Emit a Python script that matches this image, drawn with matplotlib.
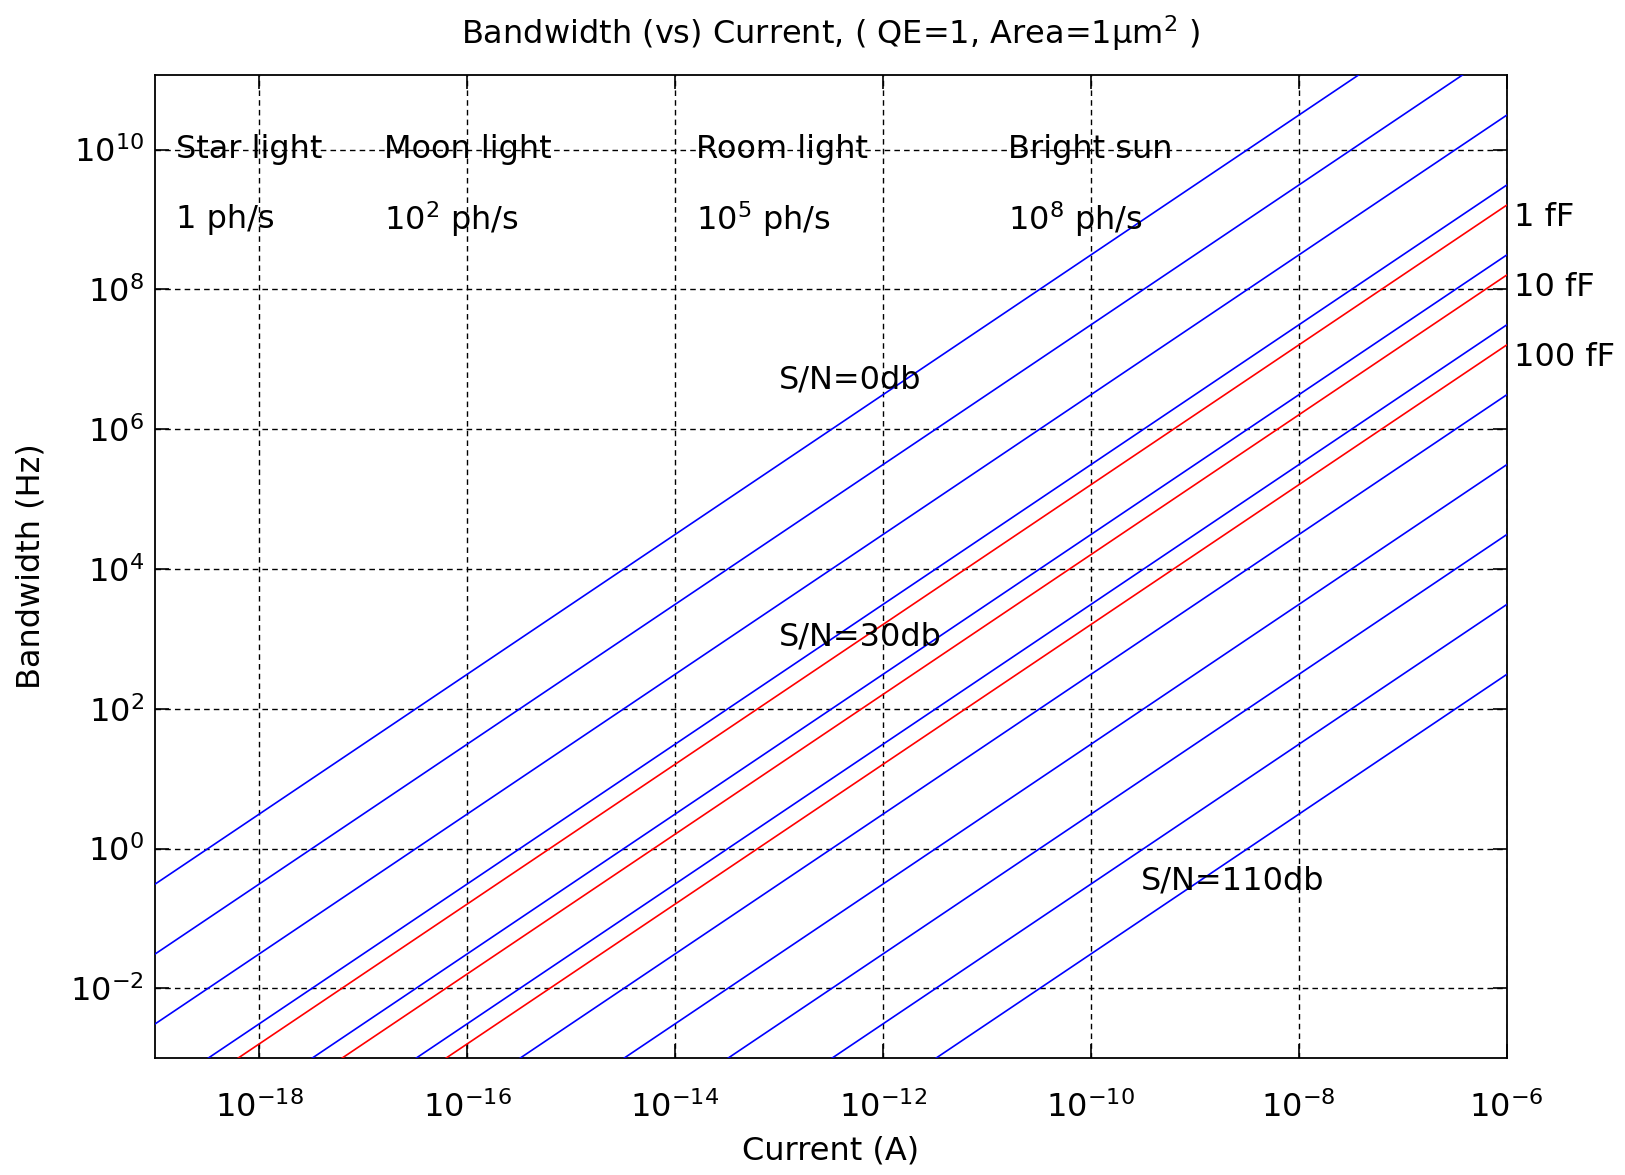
import matplotlib
matplotlib.use("Agg")
import matplotlib.pyplot as plt

plt.rcParams['font.family'] = ['DejaVu Sans']
plt.rcParams['mathtext.fontset'] = 'dejavusans'
plt.rcParams['mathtext.default'] = 'regular'

# current range of every curve (A)
current_ends = [1e-19, 1e-6]

# S/N curves (blue): bandwidth read at I=1e-19 and at I=1e-6
snr_db = [0, 10, 20, 30, 40, 50, 60, 70, 80, 90, 100]
snr_bw_left = [3.1e-1, 3.1e-2, 3.1e-3, 3.1e-4, 3.1e-5, 3.1e-6,
               3.1e-7, 3.1e-8, 3.1e-9, 3.1e-10, 3.1e-11]
snr_bw_right = [3.1e12, 3.1e11, 3.1e10, 3.1e9, 3.1e8, 3.1e7,
                3.1e6, 3.1e5, 3.1e4, 3.1e3, 3.1e2]

# capacitance curves (red)
cap_labels = ['1 fF', '10 fF', '100 fF']
cap_bw_left = [1.6e-4, 1.6e-5, 1.6e-6]
cap_bw_right = [1.6e9, 1.6e8, 1.6e7]
cap_label_y = [1.07e9, 1.07e8, 1.05e7]

# light levels
light_names = ['Star light', 'Moon light', 'Room light', 'Bright sun']
light_rates = ['1 ph/s', '10$^2$ ph/s', '10$^5$ ph/s', '10$^8$ ph/s']
light_current = [1.6e-19, 1.6e-17, 1.6e-14, 1.6e-11]

# S/N annotations
snr_text = ['S/N=0db', 'S/N=30db', 'S/N=110db']
snr_text_x = [1e-13, 1e-13, 3e-10]
snr_text_y = [5.0e6, 1.05e3, 0.34]

xticks = [1e-18, 1e-16, 1e-14, 1e-12, 1e-10, 1e-8, 1e-6]
xtick_labels = ['$10^{-18}$', '$10^{-16}$', '$10^{-14}$', '$10^{-12}$',
                '$10^{-10}$', '$10^{-8}$', '$10^{-6}$']
yticks = [1e-2, 1e0, 1e2, 1e4, 1e6, 1e8, 1e10]
ytick_labels = ['$10^{-2}$', '$10^{0}$', '$10^{2}$', '$10^{4}$',
                '$10^{6}$', '$10^{8}$', '$10^{10}$']

FS = 23

fig = plt.figure(figsize=(16.25, 11.75), dpi=100)
ax = fig.add_axes([0.0954, 0.0993, 0.8318, 0.8371])

for lo, hi in zip(snr_bw_left, snr_bw_right):
    ax.loglog(current_ends, [lo, hi], color='b', lw=1.2, zorder=3)
for lo, hi in zip(cap_bw_left, cap_bw_right):
    ax.loglog(current_ends, [lo, hi], color='r', lw=1.2, zorder=3)

ax.set_xlim(1e-19, 1e-6)
ax.set_ylim(1e-3, 1.175e11)
ax.set_xticks(xticks)
ax.set_xticklabels(xtick_labels)
ax.set_yticks(yticks)
ax.set_yticklabels(ytick_labels)
ax.minorticks_off()
ax.tick_params(direction='in', length=10, width=1.2, top=True, right=True,
               labelsize=FS)
ax.tick_params(axis='x', pad=24)
ax.tick_params(axis='y', pad=8)
ax.grid(True, color='k', linestyle=(0, (4, 3)), lw=1.0)
for s in ax.spines.values():
    s.set_linewidth(1.3)

for name, rate, xc in zip(light_names, light_rates, light_current):
    ax.text(xc, 1e10, name, fontsize=FS, ha='left', va='center', zorder=4)
    ax.text(xc, 1e9, rate, fontsize=FS, ha='left', va='center', zorder=4)

for t, xt, yt in zip(snr_text, snr_text_x, snr_text_y):
    ax.text(xt, yt, t, fontsize=FS, ha='left', va='center', zorder=4)

for lab, yl in zip(cap_labels, cap_label_y):
    ax.text(1.17e-6, yl, lab, fontsize=FS, ha='left', va='center', clip_on=False)

ax.text(0.5, 1 + 30.7 / 983.6, 'Bandwidth (vs) Current, ( QE=1, Area=1\u03bcm$^2$ )',
        transform=ax.transAxes, ha='center', va='baseline', fontsize=FS)
ax.set_xlabel('Current (A)', fontsize=FS)
ax.set_ylabel('Bandwidth (Hz)', fontsize=FS)
ax.xaxis.set_label_coords(0.5, -0.078)
ax.yaxis.set_label_coords(-0.0806, 0.5)

fig.savefig('out.png', dpi=100)
